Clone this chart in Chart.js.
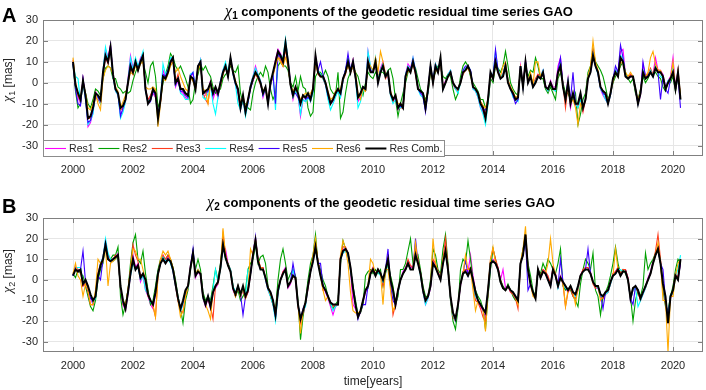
<!DOCTYPE html>
<html>
<head>
<meta charset="utf-8">
<script src="https://cdn.jsdelivr.net/npm/chart.js@4/dist/chart.umd.min.js"></script>
<style>
  html, body { margin: 0; padding: 0; background: #fff; }
  #wrap { position: relative; width: 706px; height: 390px; overflow: hidden; }
  #cA { position: absolute; left: 0; top: 0; }
  #cB { position: absolute; left: 0; top: 196px; }
  #msg { position: absolute; left: 60px; top: 60px; color: red; font: 12px sans-serif; }
</style>
</head>
<body>
<div id="wrap">
  <canvas id="cA" width="706" height="196"></canvas>
  <canvas id="cB" width="706" height="194"></canvas>
  <div id="msg"></div>
</div>
<script>
// ---------- DATA (monthly samples starting Jan 2000) ----------
const START_YEAR = 2000;
const SAMPLES_PER_YEAR = 12;
const seriesLabels = ['Res1', 'Res2', 'Res3', 'Res4', 'Res5', 'Res6', 'Res Comb.'];
const xTickYears = [2000, 2002, 2004, 2006, 2008, 2010, 2012, 2014, 2016, 2018, 2020];
const yTickValues = [-30, -20, -10, 0, 10, 20, 30];

// Panel A : chi1
const res1A = [
10,-2,-7,-10,2,-8,-21,-19,-14,-4,-7,-10,
6,16,12,18,3,-4,-6,-15,-13,-9,2,13,
7,11,7,12,14,-4,-8,-7,-5,-7,-16,-9,
6,3,6,11,12,-2,1,-4,-5,-7,-8,4,
4,-2,7,11,-6,-6,-4,1,-8,-4,-7,1,
6,9,4,12,4,-1,-5,-13,-8,-15,-10,-1,
3,8,4,1,-7,-3,-8,1,4,11,16,14,
11,20,11,0,-8,-3,-6,-16,-8,-9,-6,-9,
-4,13,6,4,2,-1,-7,-10,-9,-6,-4,-7,
1,6,11,6,11,2,-9,-7,-3,-2,15,7,
6,11,1,7,10,4,3,-5,-9,-7,-13,-11,
-12,4,9,7,12,6,-2,-5,-7,-13,-4,8,
1,9,6,11,-2,1,4,6,-1,-3,-4,1,
5,7,7,6,-3,-4,-7,-12,-14,-17,-9,4,
3,12,6,3,4,9,1,-2,-6,-8,-8,8,
-1,11,1,4,-1,1,4,3,6,-1,-4,1,
-2,-2,8,12,-1,-7,2,-12,-6,-11,-11,-6,
-13,-7,3,7,15,9,4,-3,-6,-8,-10,-6,
1,6,4,15,16,4,3,4,2,-4,-10,-6,
9,3,4,5,4,12,6,6,4,-2,1,3,
12,-2,6,-7];
const res2A = [
9,-4,-12,-10,0,-5,-10,-12,-8,-3,-4,-6,
2,7,8,7,2,2,-2,-3,-5,-4,-5,-4,
1,5,8,10,10,5,0,8,10,3,-12,-8,
0,4,8,14,12,8,6,8,5,2,-2,-10,
-8,0,4,9,6,8,5,3,-2,-5,-4,-3,
2,4,5,8,6,5,8,-5,-10,-10,-12,-13,
-5,0,3,5,3,8,5,-3,-8,-5,8,10,
8,8,6,0,-2,3,-4,3,-2,-3,-12,-16,
-14,3,5,5,3,6,3,-3,-5,-6,5,-17,
-14,-5,2,5,8,5,3,-2,-6,0,5,3,
2,5,3,5,5,3,6,7,2,-8,-16,-10,
-5,0,5,7,8,7,2,-3,-5,-8,-5,5,
2,5,8,8,3,2,4,3,-3,-8,-5,3,
8,10,8,3,0,-2,-4,-8,-8,-12,-10,2,
0,8,7,5,8,15,8,0,-3,-5,-6,5,
0,8,3,6,5,12,8,2,2,-3,-5,-2,
-5,-8,2,5,0,-5,-5,-8,-8,-5,-20,-15,
-8,-5,5,8,16,10,8,6,3,-2,-8,-5,
0,3,5,8,10,5,2,0,2,-5,-8,-3,
3,0,2,5,4,5,3,2,-2,-4,0,0,
3,-4,3,-6];
const res3A = [
11,0,-6,-9,1,-6,-17,-17,-13,-7,-8,-10,
4,12,9,15,4,-3,-5,-13,-12,-8,0,7,
4,9,6,10,12,-3,-8,-6,-3,-4,-17,-9,
3,2,5,9,11,0,4,-2,-4,-5,-6,2,
1,-3,8,9,-5,-8,-10,0,-5,-3,-6,-1,
4,8,3,10,5,0,-4,-12,-7,-13,-8,-2,
1,4,2,-1,-5,-3,-9,-1,3,9,13,11,
8,16,9,-1,-5,-3,-6,-10,-7,-7,-6,-7,
-2,11,4,3,2,-1,-5,-9,-8,-5,-3,-5,
1,4,9,5,8,2,-6,-6,-3,-4,9,6,
5,11,2,6,9,2,4,-4,-9,-6,-12,-12,
-12,2,6,5,9,4,-3,-4,-5,-11,-3,7,
0,7,5,10,-2,0,3,5,0,-3,-4,0,
4,6,7,5,-2,-3,-5,-9,-11,-15,-9,4,
2,9,5,3,4,9,1,-2,-5,-7,-8,7,
-2,9,1,4,-1,2,4,3,5,-2,-4,0,
-3,-4,4,8,-1,-12,-1,-9,-6,-9,-12,-7,
-14,-8,3,7,16,9,5,-2,-4,-5,-9,-5,
1,5,4,12,11,3,2,4,3,-3,-9,-4,
5,3,4,7,4,9,6,5,3,-3,0,2,
6,-3,4,-7];
const res4A = [
9,3,2,-9,0,-8,-20,-18,-15,-5,-7,-10,
6,17,11,16,3,-4,-6,-17,-14,-9,1,12,
6,12,8,11,15,-4,-9,-8,-4,-6,-18,-8,
9,4,6,12,12,-1,2,-5,-6,-8,-8,4,
5,-2,7,11,-7,-8,-5,-1,-10,-15,-7,1,
6,10,5,12,4,-1,-10,-13,-8,-16,-10,-1,
3,7,4,1,-6,-3,-8,-1,4,-13,15,13,
12,21,11,-1,-7,-4,-6,-15,-8,-9,-7,-9,
-5,12,6,4,2,-1,-8,-13,-10,-7,-4,-7,
1,6,12,6,10,2,-12,-9,-4,-3,15,8,
5,12,2,6,9,3,4,-6,-10,-8,-12,-12,
-11,4,8,6,12,6,-3,-6,-7,-13,-4,8,
1,9,6,11,-3,0,4,6,0,-3,-5,0,
5,7,8,6,-3,-4,-7,-12,-15,-20,-10,4,
3,15,6,3,4,9,1,-3,-7,-8,-9,8,
-2,10,1,4,-2,1,3,3,6,-2,-4,0,
-3,-4,5,10,-2,-8,1,-10,-6,-10,-12,-8,
-12,-8,3,6,14,8,4,-3,-5,-8,-10,-6,
2,6,4,13,12,4,2,3,3,-3,-10,-5,
6,3,3,6,3,8,5,3,2,-3,1,2,
8,-3,5,-8];
const res5A = [
9,-3,-10,-11,2,-7,-19,-18,-13,-6,-7,-9,
4,13,10,18,4,-3,-5,-16,-12,-8,0,9,
5,10,6,11,13,-3,-10,-9,-4,-6,-15,-9,
4,3,6,10,11,-1,2,-4,-4,-6,-7,3,
5,-3,8,10,-5,-5,-4,0,-6,-3,-6,0,
5,8,3,11,5,0,-4,-11,-6,-14,-9,-3,
1,5,3,0,-6,-2,-10,-1,4,-10,14,12,
10,18,10,-1,-5,-5,-7,-10,-6,-8,-7,-8,
-3,10,6,10,4,0,-6,-10,-8,-5,-3,-5,
2,6,14,6,10,3,-7,-5,-2,-3,10,6,
5,10,0,5,8,3,5,-5,-8,-7,-12,-11,
-12,3,7,6,11,5,-3,-5,-6,-14,-3,8,
0,8,5,11,-3,0,3,5,0,-2,-3,0,
6,8,8,6,-2,-3,-5,-10,-13,-13,-8,5,
2,16,6,2,3,8,0,-3,-6,-10,-8,8,
-2,10,0,3,-2,0,3,2,5,-2,-3,0,
-3,-3,6,12,-2,-8,0,-8,5,-10,-10,-5,
-12,-8,2,5,13,8,5,-2,-5,-6,-10,-5,
2,8,5,18,12,3,2,3,3,-3,-10,-5,
10,3,3,5,3,7,5,-8,3,-3,-5,2,
5,-3,3,-12];
const res6A = [
12,0,-6,-7,0,-5,-12,-13,-10,-5,-10,-13,
2,6,8,7,4,-2,-4,-12,-9,-6,0,5,
4,8,6,9,10,-2,-3,-3,-2,-3,-21,-10,
2,1,4,8,10,5,7,3,0,-3,-4,2,
1,-3,6,9,-3,-4,-10,0,-4,-3,-5,0,
4,8,4,10,5,1,-3,-10,-6,-12,-8,-2,
2,4,3,0,-4,-2,-8,0,4,8,12,10,
8,12,8,-1,-4,-2,-5,-8,-6,-5,-5,-5,
-3,9,5,3,3,0,-4,-8,-7,-4,-3,-3,
2,5,8,5,8,5,-5,-8,-3,-4,10,8,
6,12,5,15,10,4,4,-4,-8,-6,-10,-10,
-11,2,6,5,10,5,-3,-4,-5,-10,-3,6,
0,7,5,10,-2,0,3,5,0,-2,-3,0,
5,6,7,4,-2,-3,-5,-9,-11,-12,-8,4,
2,9,5,3,8,10,1,-2,-4,-7,-6,7,
-1,9,1,5,-1,10,10,3,5,-2,-3,0,
-3,-3,5,8,-2,-8,-1,-10,-8,-12,-20,-10,
-12,-8,3,8,20,10,6,-2,-4,-5,-9,-5,
1,5,3,10,9,5,3,5,3,-3,-9,-4,
5,3,5,12,15,9,6,6,3,-3,0,2,
10,-3,6,-6];
const resCombA = [
10,-1,-5,-8,1,-6,-17,-16,-12,-5,-6,-8,
5,13,10,17,4,-3,-5,-12,-11,-8,0,8,
5,10,6,10,13,-3,-10,-8,-3,-5,-17,-8,
3,2,5,10,12,0,2,-3,-3,-5,-6,3,
2,-3,8,10,-5,-4,-3,0,-5,-2,-5,0,
5,8,3,12,5,0,-3,-12,-6,-14,-8,-2,
2,5,3,0,-5,-2,-10,0,5,10,15,13,
10,19,10,-1,-6,-2,-5,-10,-6,-7,-5,-8,
-3,13,5,3,3,0,-5,-10,-8,-5,-3,-5,
2,5,10,5,10,3,-7,-5,-2,-3,10,5,
5,10,0,5,8,3,5,-5,-8,-6,-12,-10,
-12,3,7,5,10,5,-3,-4,-5,-12,-3,8,
0,8,5,12,-3,0,3,5,0,-2,-3,0,
5,6,8,5,-2,-3,-5,-10,-12,-17,-8,5,
2,10,5,2,3,8,0,-3,-5,-8,-7,8,
-2,10,0,3,-2,0,3,2,5,-2,-3,0,
-3,-3,5,8,-2,-8,0,-10,-5,-10,-10,-5,
-12,-8,2,5,13,8,5,-2,-4,-5,-10,-5,
2,5,3,12,10,3,2,3,3,-3,-10,-5,
5,2,3,5,3,7,5,5,3,-3,0,2,
5,-3,5,-8];

// Panel B : chi2
const res1B = [
2,6,5,5,-3,-1,-5,-9,-12,-8,3,8,
11,19,12,10,9,11,13,-5,-12,-15,-7,2,
12,6,8,-1,2,-5,-8,-12,-14,-7,4,9,
12,9,11,9,4,-3,-10,-15,-12,-6,-4,7,
14,1,4,2,-9,-13,-9,-14,-6,-4,-2,7,
16,15,8,5,-5,-8,-4,-9,-4,-9,-6,3,
13,20,10,6,6,0,-5,-8,-12,-18,-6,0,
4,6,-4,-2,3,0,-13,-20,-17,-12,-4,4,
10,17,9,3,-3,-6,-9,-13,-17,-13,-12,11,
15,14,12,5,-12,-14,-18,-16,-11,-6,-4,3,
6,3,5,4,-1,4,11,-1,-6,-13,-6,0,
4,6,9,6,6,12,9,3,-6,-12,-9,-4,
9,7,4,1,9,16,6,-9,-18,-20,-13,-3,
4,5,4,12,2,-5,-10,-13,-15,-18,-7,8,
10,9,6,0,5,-4,-3,-6,-7,-9,-11,8,
12,22,6,-2,-7,-8,5,2,5,4,1,-3,
6,3,-3,2,-1,-4,-6,-4,-7,-8,-4,2,
5,6,6,4,-1,-4,-4,-8,-9,-7,-6,-2,
3,4,6,3,5,5,1,-10,-5,-4,-6,-10,
-7,-4,1,4,9,12,16,8,-3,-10,-18,-9,
-6,3,1,10];
const res2B = [
3,1,5,3,2,-3,-8,-13,-15,-10,0,5,
8,18,10,10,12,12,16,-8,-17,-12,-5,8,
18,22,10,8,14,3,-5,-12,-10,-3,5,10,
11,10,12,10,6,0,-8,-14,-21,-10,-5,5,
12,5,10,5,-6,-10,-8,-10,-3,5,0,8,
20,10,8,5,-3,-8,-5,-10,-8,-5,5,8,
10,17,8,11,12,8,-3,-8,-12,-15,0,10,
15,8,0,3,5,2,-10,-29,-18,-10,0,8,
12,22,8,5,0,-3,-8,-12,-14,-12,-10,8,
19,15,12,5,-3,-10,-17,-16,-12,2,4,5,
3,5,3,5,-3,3,8,2,-3,-12,-8,5,
5,8,14,20,8,10,12,5,-3,-8,-8,0,
15,12,5,3,15,22,8,-10,-20,-24,-14,5,
10,8,19,10,0,-5,-8,-10,-14,-24,-8,5,
15,10,5,0,-3,-5,-2,-5,-8,-10,-10,8,
15,20,8,2,-5,-8,5,3,8,5,10,8,
5,3,8,15,-3,-5,-4,-5,-8,-10,-13,-2,
5,10,8,5,13,-5,-8,-17,-8,-6,-3,2,
8,16,8,3,5,3,0,-8,-20,-10,-5,-8,
-3,13,5,8,10,13,15,8,-5,-13,-15,-8,
-3,5,10,8];
const res3B = [
3,6,4,4,-3,-2,-6,-12,-12,-7,3,7,
11,18,11,9,10,12,11,-4,-12,-13,-5,5,
17,12,9,2,3,0,-8,-10,-13,-18,2,9,
12,10,12,10,5,-3,-10,-15,-16,-8,-4,6,
13,3,5,3,-9,-12,-9,-13,-19,-3,-2,6,
22,13,7,4,-4,-8,-3,-8,-5,-9,-6,3,
13,19,10,6,6,1,-4,-7,-11,-17,-6,0,
4,5,-3,-1,2,0,-12,-21,-16,-11,-4,4,
11,18,9,3,-5,-5,-8,-11,-13,-12,-12,11,
16,16,13,6,-6,-12,-18,-15,-10,-5,-4,4,
6,3,5,3,-3,5,10,-2,-17,-12,-5,0,
3,5,10,7,6,15,10,3,-6,-11,-8,-3,
10,8,4,1,10,20,6,-9,-18,-20,-13,-2,
4,5,5,6,-2,-10,-11,-14,-18,-20,-6,10,
15,10,6,0,-4,-5,-3,-6,-7,-9,-14,8,
14,22,5,-2,-6,-9,5,2,5,4,2,-2,
6,3,-3,1,-2,-13,-6,-4,-8,-9,-5,2,
5,6,6,3,-2,-4,-3,-8,-9,-7,-6,-2,
3,4,6,3,5,5,1,-10,-4,-4,-6,-10,
-6,-4,0,3,8,14,22,10,-3,-12,-20,-8,
-5,3,1,8];
const res4B = [
2,6,6,6,-1,0,-4,-8,-11,-9,2,8,
11,20,13,10,9,10,11,-4,-11,-13,-6,2,
8,5,6,0,2,-5,-7,-11,-12,-6,3,8,
11,9,10,8,4,-3,-9,-15,-12,-6,-4,6,
14,3,5,3,-9,-12,-8,-12,-5,5,-1,5,
16,11,7,5,-3,-6,-3,-8,-4,-8,5,3,
12,19,9,5,5,0,-5,-8,-12,-20,-7,0,
3,5,-3,-1,5,0,-12,-19,-15,-13,-3,4,
9,16,8,2,-3,-5,-8,-11,-15,-13,-12,10,
13,14,12,5,-4,-12,-17,-15,-10,-5,-4,3,
5,2,4,2,-1,4,9,-1,-6,-12,-6,0,
3,5,8,5,5,12,8,2,-6,-12,-9,-3,
8,6,3,0,8,14,5,-9,-17,-20,-13,-2,
3,4,2,5,-1,-8,-10,-12,-14,-16,-6,8,
9,8,5,-1,-4,-5,-3,-5,-6,-8,-11,8,
12,21,5,-2,-6,-9,5,1,4,3,0,-3,
5,2,-4,1,-1,-4,-5,-3,-6,-8,-4,2,
4,5,5,3,-1,-3,-4,-8,-8,-7,-6,-2,
2,3,5,5,4,4,0,-10,-5,-4,-13,-10,
-7,-4,0,3,8,12,15,8,-2,-10,-18,-7,
-7,2,5,12];
const res5B = [
2,6,4,5,14,-1,-5,-9,-10,-8,2,0,
10,18,10,9,10,11,12,-4,-11,-14,-6,4,
10,5,7,1,3,0,-7,-10,-12,-6,3,8,
10,8,10,9,5,-2,-9,-14,-11,-5,-3,6,
15,2,4,3,-8,-12,-8,-13,-6,-3,-1,6,
17,11,7,4,-4,-7,-3,-7,-17,-8,-5,3,
12,21,9,5,5,1,-4,-6,-10,-18,-5,0,
3,5,-3,-1,8,1,-12,-19,-14,-11,-3,4,
9,16,8,8,-3,-5,-8,-11,-12,-12,-12,10,
14,15,13,6,-4,-12,-19,-15,-12,-12,-3,3,
5,2,5,3,0,5,15,-3,-10,-12,-5,0,
3,5,8,5,5,20,8,3,-5,-10,-8,-3,
8,6,3,0,8,14,5,-8,-16,-19,-12,-2,
3,10,2,5,0,-6,-10,-12,-14,-16,-5,8,
9,8,5,-1,-4,-5,-3,-5,-6,-8,-10,8,
12,20,-5,-2,-6,-9,5,1,4,3,0,-3,
5,2,-3,10,-1,-3,-5,-3,-6,-7,-3,2,
4,5,15,3,-1,-3,-3,-7,-14,-6,-5,-1,
2,3,5,2,4,4,0,-9,-12,-3,-5,-9,
-6,-3,0,3,8,12,15,8,5,-10,-18,-8,
-5,2,0,8];
const res6B = [
3,8,2,0,-8,-2,-5,-12,-12,-5,10,8,
9,16,-3,8,9,10,12,-4,-10,-12,-5,5,
15,14,10,10,5,0,-7,-10,-12,-18,2,10,
14,12,14,10,6,-2,-10,-18,-15,-8,-3,6,
12,3,5,3,-8,-12,-15,-19,-6,-3,-1,6,
25,12,7,4,-4,-8,-3,-8,-4,-9,-5,15,
12,20,10,6,5,1,-4,-7,-10,-16,-5,0,
3,5,-3,-1,2,1,-12,-26,-15,-11,-3,4,
12,20,8,2,-5,-10,-8,-11,-12,-12,-12,12,
19,15,8,-6,-15,-16,-16,-15,-10,-5,-3,10,
8,2,5,3,-12,5,5,-5,-15,-12,-5,0,
3,5,8,5,5,18,8,3,-5,-10,-8,-3,
20,8,3,0,10,15,5,-8,-16,-19,-12,-2,
3,12,5,5,-5,-15,-10,-12,-14,-25,-5,10,
16,8,5,-1,-4,-5,-3,-5,-6,-8,-12,8,
15,26,5,-2,-8,-9,5,1,4,3,8,20,
8,2,-3,1,-1,-13,-5,-3,-6,-12,-3,2,
4,5,5,3,-1,-3,-3,-10,-8,-6,-5,-1,
2,15,5,2,4,4,0,-9,-4,-3,-5,-9,
-6,-3,0,3,8,12,18,8,-10,-10,-35,-8,
-8,2,8,10];
const resCombB = [
2,5,4,5,-2,0,-3,-7,-10,-8,2,7,
10,17,10,9,10,11,12,-3,-10,-14,-6,3,
10,5,7,1,3,0,-7,-10,-12,-6,3,8,
10,8,10,9,5,-2,-9,-14,-10,-5,-3,6,
13,2,4,3,-8,-12,-8,-13,-6,-3,-1,6,
17,11,7,4,-4,-7,-3,-7,-3,-8,-5,3,
12,19,9,5,5,1,-4,-6,-10,-17,-5,0,
3,5,-3,-1,2,1,-12,-19,-15,-11,-3,4,
9,16,8,2,-3,-5,-8,-11,-12,-12,-12,10,
14,15,13,6,-4,-12,-18,-15,-10,-5,-3,3,
5,2,5,3,0,5,10,0,-5,-12,-5,0,
3,5,8,5,5,12,8,3,-5,-10,-8,-3,
8,6,3,0,8,14,5,-8,-16,-19,-12,-2,
3,4,2,5,0,-6,-10,-12,-14,-16,-5,8,
9,8,5,-1,-4,-5,-3,-5,-6,-8,-10,8,
12,22,5,-2,-6,-9,5,1,4,3,0,-3,
5,2,-3,1,-1,-3,-5,-3,-6,-7,-3,2,
4,5,5,3,-1,-3,-3,-7,-8,-6,-5,-1,
2,3,5,2,4,4,0,-9,-4,-3,-5,-9,
-6,-3,0,3,8,12,15,8,-2,-8,-21,-8,
-5,2,0,10];

// ---------- STYLES ----------
const seriesColors = ['#ff00ff', '#00a000', '#ff3c1e', '#00ffff', '#3c00ff', '#ffaa00', '#000000'];
const seriesWidths = [1.1, 1.1, 1.1, 1.1, 1.1, 1.1, 2.0];
const SANS = '"Liberation Sans", Arial, sans-serif';
const SERIF = '"Liberation Serif", "Times New Roman", serif';
const TEXT_COLOR = '#262626';
const FRAME_COLOR = '#808080';

const allA = [res1A, res2A, res3A, res4A, res5A, res6A, resCombA];
const allB = [res1B, res2B, res3B, res4B, res5B, res6B, resCombB];

// length check (debug only)
const bad = [];
allA.concat(allB).forEach((a, i) => { if (a.length !== 244) bad.push(i + ':' + a.length); });
if (bad.length) document.getElementById('msg').textContent = 'LEN ' + bad.join(' ');

function toPoints(vals) {
  return vals.map((v, i) => ({ x: START_YEAR + i / SAMPLES_PER_YEAR, y: v }));
}

function drawRich(ctx, parts, x, y, align) {
  let w = 0;
  parts.forEach(p => { ctx.font = p.font; w += ctx.measureText(p.t).width; });
  let cx = align === 'center' ? x - w / 2 : x;
  parts.forEach(p => {
    ctx.font = p.font;
    ctx.fillText(p.t, cx, y + (p.dy || 0));
    cx += ctx.measureText(p.t).width;
  });
}

function line(ctx, x1, y1, x2, y2) {
  ctx.beginPath(); ctx.moveTo(x1, y1); ctx.lineTo(x2, y2); ctx.stroke();
}

const decorPlugin = {
  id: 'decor',
  afterDraw(chart) {
    const o = chart.options.plugins.decor;
    const { ctx, chartArea: a } = chart;
    const xs = chart.scales.x, ys = chart.scales.y;
    ctx.save();
    // frame and inner ticks
    ctx.strokeStyle = FRAME_COLOR; ctx.lineWidth = 1;
    ctx.strokeRect(Math.round(a.left) + 0.5, Math.round(a.top) + 0.5,
                   Math.round(a.right - a.left) - 1, Math.round(a.bottom - a.top) - 1);
    xTickYears.forEach(v => {
      const px = Math.round(xs.getPixelForValue(v)) + 0.5;
      line(ctx, px, a.top, px, a.top + 5);
      line(ctx, px, a.bottom, px, a.bottom - 5);
    });
    yTickValues.forEach(v => {
      const py = Math.round(ys.getPixelForValue(v)) + 0.5;
      line(ctx, a.left, py, a.left + 5, py);
      line(ctx, a.right, py, a.right - 5, py);
    });

    ctx.fillStyle = '#000';
    ctx.textBaseline = 'alphabetic';
    ctx.textAlign = 'left';
    // panel letter
    ctx.font = 'bold 20px ' + SANS;
    ctx.fillText(o.letter, o.letterX, o.letterY);
    // title
    drawRich(ctx, [
      { t: 'χ', font: 'italic 16px ' + SERIF },
      { t: o.sub, font: 'bold 10px ' + SANS, dy: 3 },
      { t: ' components of the geodetic residual time series GAO', font: 'bold 13px ' + SANS }
    ], o.titleX, o.titleY, 'center');

    // y label (rotated)
    ctx.save();
    ctx.translate(o.ylabX, o.ylabY);
    ctx.rotate(-Math.PI / 2);
    ctx.fillStyle = TEXT_COLOR;
    drawRich(ctx, [
      { t: 'χ', font: 'italic 14px ' + SERIF },
      { t: o.sub, font: '9px ' + SANS, dy: 3 },
      { t: ' [mas]', font: '12px ' + SANS }
    ], 0, 0, 'center');
    ctx.restore();

    // x label
    if (o.xlabel) {
      ctx.fillStyle = TEXT_COLOR;
      ctx.font = '12px ' + SANS;
      ctx.textAlign = 'center';
      ctx.fillText(o.xlabel, (a.left + a.right) / 2, o.xlabelY);
      ctx.textAlign = 'left';
    }

    // legend inside the plot (panel A)
    if (o.legend) {
      const L = o.legend;
      ctx.fillStyle = '#fff';
      ctx.fillRect(L.x, L.y, L.w, L.h);
      ctx.strokeStyle = '#8c8c8c';
      ctx.lineWidth = 1;
      ctx.strokeRect(L.x + 0.5, L.y + 0.5, L.w - 1, L.h - 1);
      ctx.font = '10.6px ' + SANS;
      ctx.textBaseline = 'middle';
      chart.data.datasets.forEach((ds, i) => {
        const sx = L.x + 2 + i * L.pitch;
        const cy = L.y + L.h / 2;
        ctx.strokeStyle = ds.borderColor;
        ctx.lineWidth = ds.borderWidth;
        line(ctx, sx, cy, sx + 21, cy);
        ctx.fillStyle = TEXT_COLOR;
        ctx.fillText(ds.label, sx + 24, cy + 0.5);
      });
    }
    ctx.restore();
  }
};

function makeChart(canvasId, arrays, cfg) {
  const datasets = arrays.map((vals, i) => ({
    label: seriesLabels[i],
    data: toPoints(vals),
    borderColor: seriesColors[i],
    backgroundColor: seriesColors[i],
    borderWidth: seriesWidths[i],
    pointRadius: 0,
    tension: 0,
    fill: false,
    order: arrays.length - i
  }));
  return new Chart(document.getElementById(canvasId), {
    type: 'line',
    data: { datasets },
    options: {
      responsive: false,
      animation: false,
      devicePixelRatio: 1,
      events: [],
      layout: { padding: { top: cfg.top, right: 3, left: 0, bottom: 0 } },
      plugins: {
        legend: { display: false },
        tooltip: { enabled: false },
        title: { display: false },
        decor: cfg.decor
      },
      scales: {
        x: {
          type: 'linear', min: 1999, max: 2021,
          afterBuildTicks: s => { s.ticks = xTickYears.map(v => ({ value: v })); },
          afterFit: s => { s.height = cfg.xh; },
          grid: { color: '#e6e6e6', drawTicks: false },
          border: { display: false },
          ticks: {
            autoSkip: false, maxRotation: 0, padding: 7,
            color: TEXT_COLOR, font: { family: SANS, size: 11 },
            callback: v => String(v)
          }
        },
        y: {
          type: 'linear', min: -35, max: 30,
          afterBuildTicks: s => { s.ticks = yTickValues.map(v => ({ value: v })); },
          afterFit: s => { s.width = 43; },
          grid: { color: '#e6e6e6', drawTicks: false },
          border: { display: false },
          ticks: {
            padding: 5, color: TEXT_COLOR, font: { family: SANS, size: 11 },
            callback: v => String(v)
          }
        }
      }
    },
    plugins: [decorPlugin]
  });
}

makeChart('cA', allA, {
  top: 20, xh: 40,
  decor: {
    letter: 'A', letterX: 2, letterY: 22, sub: '1',
    titleX: 399, titleY: 16, ylabX: 12, ylabY: 80,
    legend: { x: 43, y: 140, w: 402, h: 17, pitch: 53.4 }
  }
});
makeChart('cB', allB, {
  top: 22, xh: 38,
  decor: {
    letter: 'B', letterX: 2, letterY: 17, sub: '2',
    titleX: 381, titleY: 11, ylabX: 12, ylabY: 75,
    xlabel: 'time[years]', xlabelY: 189
  }
});
</script>
</body>
</html>
